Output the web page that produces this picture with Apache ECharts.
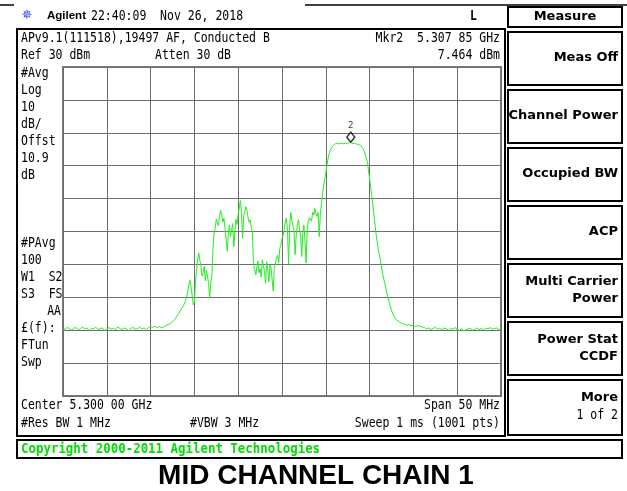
<!DOCTYPE html>
<html><head><meta charset="utf-8">
<script src="https://cdn.jsdelivr.net/npm/echarts@6/dist/echarts.min.js"></script>
<style>html,body{margin:0;padding:0;background:#fff;}#c{width:627px;height:491px;}</style>
</head><body><div id="c"></div>
<script>
var lowStart = 5275, lowStep = 0.25;
var lowLevels = [
-49.3,-49.8,-49.1,-49.6,-50.0,-49.4,-49.2,-49.9,-49.5,-49.0,
-49.7,-49.3,-50.2,-49.4,-49.6,-49.1,-49.8,-49.5,-49.3,-50.1,
-49.6,-49.2,-49.7,-49.4,-49.9,-49.0,-49.5,-49.8,-49.3,-49.6,
-50.3,-49.4,-49.2,-49.7,-49.5,-49.1,-49.6,-49.3,-49.8,-49.2,
-48.9,-49.1,-48.8,-49.2,-48.9,-49.3,
-49.0,-48.6,-48.2,-48.0,-47.4,-46.8,-45.7,-44.9,-43.5,-42.6
];
var midStart = 5289, midStep = 0.125;
var midLevels = [
-41.0,-39.6,-38.2,-36.0,-34.8,-36.9,-37.4,-42.3,
-41.5,-35.2,-32.0,-28.4,-26.6,-28.9,-30.2,-33.5,
-32.4,-30.6,-35.0,-31.8,-33.6,-36.2,-40.2,-35.4,
-33.0,-25.1,-20.4,-19.0,-16.2,-17.4,-18.3,-15.1,
-13.6,-15.0,-17.1,-16.0,-19.2,-18.6,-26.0,-20.2,
-18.1,-21.5,-19.4,-17.6,-24.6,-19.8,-16.3,-17.9,
-14.6,-12.8,-10.6,-14.2,-22.0,-15.3,-14.0,-12.5,
-13.5,-15.8,-17.2,-16.5,-19.0,-20.5,-30.1,-31.5,
-33.2,-30.8,-29.0,-32.5,-31.3,-33.9,-28.6,-30.4,
-32.1,-35.8,-29.2,-31.6,-35.3,-30.2,-31.0,-34.7,
-38.1,-31.2,-29.4,-28.1,-27.2,-29.5,-25.1,-24.0,
-22.0,-21.3,-19.1,-17.2,-16.0,-19.5,-30.0,-18.4,
-14.2,-16.7,-16.1,-19.8,-27.0,-21.0,-18.0,-16.4,
-19.2,-21.4,-27.6,-20.5,-18.1,-22.8,-29.6,-19.3,
-17.0,-15.8,-15.5,-16.9,-14.1,-15.0,-13.0,-14.6,
-15.4,-14.2,-21.6,-14.8,-11.7,-9.0,-6.0
];
var highStart = 5305, highStep = 0.25;
var highLevels = [
-2.1,2.0,4.8,5.8,6.5,6.8,6.6,6.9,6.7,6.8,
6.6,7.4,6.7,6.8,6.6,6.4,6.1,5.2,3.5,1.0,
-4.0,-9.0,-15.0,-21.0,-25.6,-29.0,-33.0,-36.0,-39.0,-41.6,
-44.0,-45.7,-46.7,-47.2,-47.7,-48.0,-48.2,
-48.5,-48.3,-48.7,-48.4,-48.9,-48.6,-48.8,-49.0,
-49.2,-49.6,-49.3,-49.8,-49.5,-49.1,-49.7,-49.4,-49.9,-49.3,
-49.6,-50.0,-49.4,-49.7,-49.2,-49.8,-50.1,-49.5,-50.3,-49.9,
-49.6,-49.4,-50.0,-49.7,-49.3,-49.8,-49.5,-49.9,-49.4,-49.6,
-49.2,-49.7,-49.5,-49.3,-49.8,-49.4
];
var markerFreq = 5307.85, markerLevel = 7.464, markerName = '2';
var startFreq = 5275, stopFreq = 5325, refLevel = 30, bottomLevel = -70, dbPerDiv = 10, mhzPerDiv = 5;

var leftLabels = ['#Avg','Log','10','dB/','Offst','10.9','dB','','','','#PAvg','100','W1  S2','S3  FS','','£(f):','FTun','Swp'];
var softkeys = [['Meas Off'],['Channel Power'],['Occupied BW'],['ACP'],['Multi Carrier','Power'],['Power Stat','CCDF']];

function seg(start, step, arr){ return arr.map(function(v,i){ return [start + step*i, v]; }); }
var trace = seg(lowStart, lowStep, lowLevels).concat(seg(midStart, midStep, midLevels), seg(highStart, highStep, highLevels));

var MONO = '"DejaVu Sans Mono", "Liberation Mono", monospace';
var SANSB = '"DejaVu Sans", sans-serif';
function T(x,y,text,opt){
  opt = opt||{};
  var sx = opt.sx!=null ? opt.sx : (opt.ff ? 1 : 0.82);
  return {type:'text', x:x, y:y, scaleX:sx, z:10, silent:true, style:{text:text, fontFamily:opt.ff||MONO, fontSize:opt.fs||14,
    fontWeight:opt.fw||'normal', fill:opt.fill||'#000', align:opt.align||'left', verticalAlign:'middle'}};
}
function R(x,y,w,h,lw){
  return {type:'rect', z:5, silent:true, shape:{x:x,y:y,width:w,height:h}, style:{fill:null, stroke:'#000', lineWidth:lw||2}};
}
var g = [];
g.push({type:'line', silent:true, shape:{x1:0,y1:5,x2:14,y2:5}, style:{stroke:'#000', lineWidth:1.5}});
g.push({type:'line', silent:true, shape:{x1:305,y1:5,x2:627,y2:5}, style:{stroke:'#000', lineWidth:1.5}});
g.push(T(27,16,'\u2735',{fs:13, fill:'#3355ff', ff:'"DejaVu Sans"', align:'center'}));
g.push(T(47,16,'Agilent',{ff:'"Liberation Sans", Arial', fs:11.5, fw:'bold'}));
g.push(T(91,16,'22:40:09  Nov 26, 2018'));
g.push(T(470,16,'L',{fw:'bold'}));
g.push(R(17,29,488,407,2));
g.push(T(21,38,'APv9.1(111518),19497 AF, Conducted B'));
g.push(T(500,38,'Mkr2  5.307 85 GHz',{align:'right'}));
g.push(T(21,55,'Ref 30 dBm'));
g.push(T(155,55,'Atten 30 dB'));
g.push(T(500,55,'7.464 dBm',{align:'right'}));
leftLabels.forEach(function(s,i){ if(s) g.push(T(21,73+i*17.05,s)); });
g.push(T(61,73+14*17.05,'AA',{align:'right'}));
g.push(T(21,405,'Center 5.300 00 GHz'));
g.push(T(500,405,'Span 50 MHz',{align:'right'}));
g.push(T(21,423,'#Res BW 1 MHz'));
g.push(T(190,423,'#VBW 3 MHz'));
g.push(T(500,423,'Sweep 1 ms (1001 pts)',{align:'right'}));
// softkeys
g.push(R(508,7,114,20,2));
g.push(T(565,17,'Measure',{ff:SANSB, fs:13, fw:'bold', align:'center'}));
softkeys.forEach(function(k,i){
  var top = 32 + i*58;
  g.push(R(508,top,114,53,2));
  if(k.length===1) g.push(T(618,top+26,k[0],{ff:SANSB, fs:13, fw:'bold', align:'right'}));
  else { g.push(T(618,top+18,k[0],{ff:SANSB, fs:13, fw:'bold', align:'right'})); g.push(T(618,top+35,k[1],{ff:SANSB, fs:13, fw:'bold', align:'right'})); }
});
g.push(R(508,380,114,55,2));
g.push(T(618,398,'More',{ff:SANSB, fs:13, fw:'bold', align:'right'}));
g.push(T(618,415,'1 of 2',{align:'right'}));
// copyright
g.push(R(17,440,605,18,2));
g.push(T(21,449,'Copyright 2000-2011 Agilent Technologies',{fs:13.5, fw:'bold', fill:'#00dd00', sx:0.92}));
g.push(T(316,476,'MID CHANNEL CHAIN 1',{ff:'"Liberation Sans", Arial', fs:28, fw:'bold', align:'center', sx:1}));

var chart = echarts.init(document.getElementById('c'), null, {renderer:'canvas'});
chart.setOption({
  backgroundColor:'#fff',
  animation:false,
  grid:{left:63, top:67, width:438, height:329, show:true, borderColor:'#7a7a7a', borderWidth:2, backgroundColor:'transparent'},
  xAxis:{type:'value', min:startFreq, max:stopFreq, interval:mhzPerDiv, axisLabel:{show:false}, axisTick:{show:false}, axisLine:{show:false},
    splitLine:{show:true, lineStyle:{color:'#6e6e6e', width:1}}},
  yAxis:{type:'value', min:bottomLevel, max:refLevel, interval:dbPerDiv, axisLabel:{show:false}, axisTick:{show:false}, axisLine:{show:false},
    splitLine:{show:true, lineStyle:{color:'#6e6e6e', width:1}}},
  series:[
    {type:'line', data:trace, showSymbol:false, symbol:'none', lineStyle:{color:'#22ee22', width:1}, z:3},
    {type:'scatter', data:[[markerFreq, markerLevel]], symbol:'diamond', symbolSize:[8,10], symbolOffset:[0,-4],
      itemStyle:{color:'#fff', borderColor:'#000', borderWidth:1.5}, z:4,
      label:{show:true, position:'top', distance:1, formatter:markerName, fontSize:9, fontFamily:MONO, color:'#000'}}
  ],
  graphic:g
});
</script></body></html>
